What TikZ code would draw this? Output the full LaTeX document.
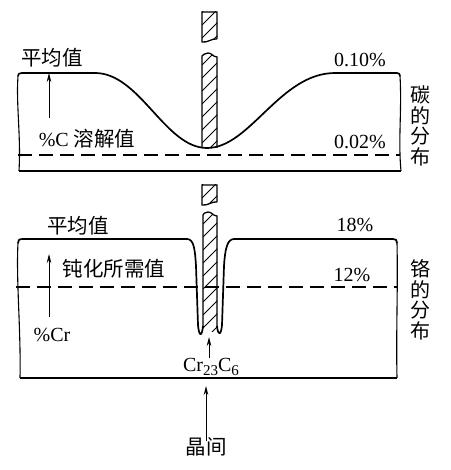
\documentclass[tikz,border=0pt]{standalone}
\usepackage{fontspec}
\setmainfont{Liberation Serif}
\newfontfamily\cjk{Noto Sans CJK SC}
\usetikzlibrary{arrows.meta}
\tikzset{
  prof/.style={line width=1.7pt, line join=round},
  edgeline/.style={line width=1.1pt},
  dashline/.style={line width=1.1pt, dash pattern=on 14pt off 7pt},
  stripline/.style={line width=1.3pt},
  hatch/.style={line width=0.8pt},
  arr/.style={line width=0.9pt, -{Stealth[length=9pt,width=4.5pt]}},
  lbl/.style={inner sep=0pt, font=\fontsize{20}{22}\selectfont},
  clbl/.style={inner sep=0pt, font=\cjk\fontsize{20.5}{22}\selectfont},
  vlbl/.style={inner sep=0pt, align=center, font=\cjk\fontsize{20}{20.5}\selectfont}
}
\newcommand{\hatchfill}[4]{%
  \begin{scope}
    \clip (#1,#2) rectangle (#3,#4);
    \foreach \k in {0,...,14} {
      \draw[hatch] (#1,#2+\k*13) -- (#1+30,#2+\k*13-30);
    }
  \end{scope}}
\begin{document}
\begin{tikzpicture}[x=1pt,y=-1pt]
\useasboundingbox (0,0) rectangle (450,470);
\fill[white] (0,0) rectangle (450,470);

% ===== top panel: carbon =====
\draw[edgeline] (18,76) .. controls (16,105) and (21,135) .. (19,171);
\draw[edgeline] (400,76) .. controls (402,110) and (398,140) .. (401,171);
\draw[edgeline] (19,171) -- (401,171);
\draw[dashline] (18,155) -- (400,155);
\draw[prof] (18,76) .. controls (18,74) and (19,73) .. (22,73) -- (95,73)
  .. controls (140,73) and (165,148) .. (207,148)
  .. controls (250,148) and (280,73) .. (335,73) -- (397,73)
  .. controls (399,73) and (400,74) .. (400,76);
% strip, upper piece
\hatchfill{202}{12}{217}{41}
\fill[white] (202,42) .. controls (208,43) and (212,38) .. (217,39) -- (217,44) -- (202,44) -- cycle;
\draw[stripline] (217,39) -- (217,12) -- (202,12) -- (202,42)
  .. controls (208,43) and (212,38) .. (217,39);
% strip, lower piece
\hatchfill{202}{52}{217}{148}
\fill[white] (202,50) -- (217,50) -- (217,57) .. controls (213,57) and (212,53) .. (208,53) .. controls (205,53) and (203,55) .. (202,56) -- cycle;
\draw[stripline] (202,148) -- (202,56) .. controls (203,55) and (205,53) .. (208,53)
  .. controls (212,53) and (213,57) .. (217,57) -- (217,148);

\node[clbl] (avgC) at (52,58) {平均值};
\node[lbl] (c10) at (360,60) {0.10\%};
\node[lbl] (cdis) at (87,139) {\%C {\cjk\fontsize{20.5}{22}\selectfont 溶解值}};
\node[lbl] (c02) at (360,142) {0.02\%};
\node[vlbl] (cdist) at (420,126) {碳\\的\\分\\布};
\coordinate (cA) at (49,118);
\coordinate (cB) at (49,73);
\draw[arr] (cA) -- (cB);

% ===== bottom panel: chromium =====
\draw[edgeline] (18,243) .. controls (16,280) and (21,330) .. (20,378);
\draw[edgeline] (397,243) .. controls (398,290) and (396,330) .. (397,378);
\draw[edgeline] (20,378) -- (397,378);
\draw[dashline] (16,287) -- (398,287);
\draw[prof] (18,243) .. controls (18,240) and (19,239) .. (23,239) -- (187,239)
  .. controls (194,239) and (195,250) .. (196,266) -- (198,325)
  .. controls (199,337) and (202,337) .. (203,326);
\draw[prof] (217,326) .. controls (218,336) and (221,336) .. (222,325) -- (224,266)
  .. controls (225,250) and (227,239) .. (234,239) -- (393,239)
  .. controls (396,239) and (397,240) .. (397,243);
% strip, upper piece
\hatchfill{202}{185}{217}{205}
\fill[white] (202,205) .. controls (208,206) and (212,201) .. (217,202) -- (217,208) -- (202,208) -- cycle;
\draw[stripline] (217,202) -- (217,185) -- (202,185) -- (202,205)
  .. controls (208,206) and (212,201) .. (217,202);
% strip, lower piece
\hatchfill{203}{211}{217}{331}
\fill[white] (202,209) -- (217,209) -- (217,216) .. controls (213,216) and (212,212) .. (208,212) .. controls (205,212) and (203,214) .. (203,215) -- cycle;
\draw[stripline] (203,326) -- (203,215) .. controls (203,214) and (205,212) .. (208,212)
  .. controls (212,212) and (213,216) .. (217,216) -- (217,326);

\node[clbl] (avgCr) at (78,226) {平均值};
\node[lbl] (cr18) at (355,225) {18\%};
\node[clbl] (pass) at (114,269) {钝化所需值};
\node[lbl] (cr12) at (352,275) {12\%};
\node[vlbl] (crdist) at (420,300) {铬\\的\\分\\布};
\node[lbl] (pcr) at (52,335) {\%Cr};
\node[lbl, anchor=north] (carb) at (211,358) {Cr\raisebox{-0.4ex}{\fontsize{15}{15}\selectfont 23}C\raisebox{-0.4ex}{\fontsize{15}{15}\selectfont 6}};
\node[clbl] (gb) at (206,447) {晶间};
\coordinate (crA) at (49,317);
\coordinate (crB) at (49,254);
\draw[arr] (crA) -- (crB);
\coordinate (carbTip) at (209,337);
\draw[arr] (carb.north -| carbTip) -- (carbTip);
\coordinate (gbTip) at (206,386);
\draw[arr] ([yshift=-3pt]gb.north) -- (gbTip);
\end{tikzpicture}
\end{document}
